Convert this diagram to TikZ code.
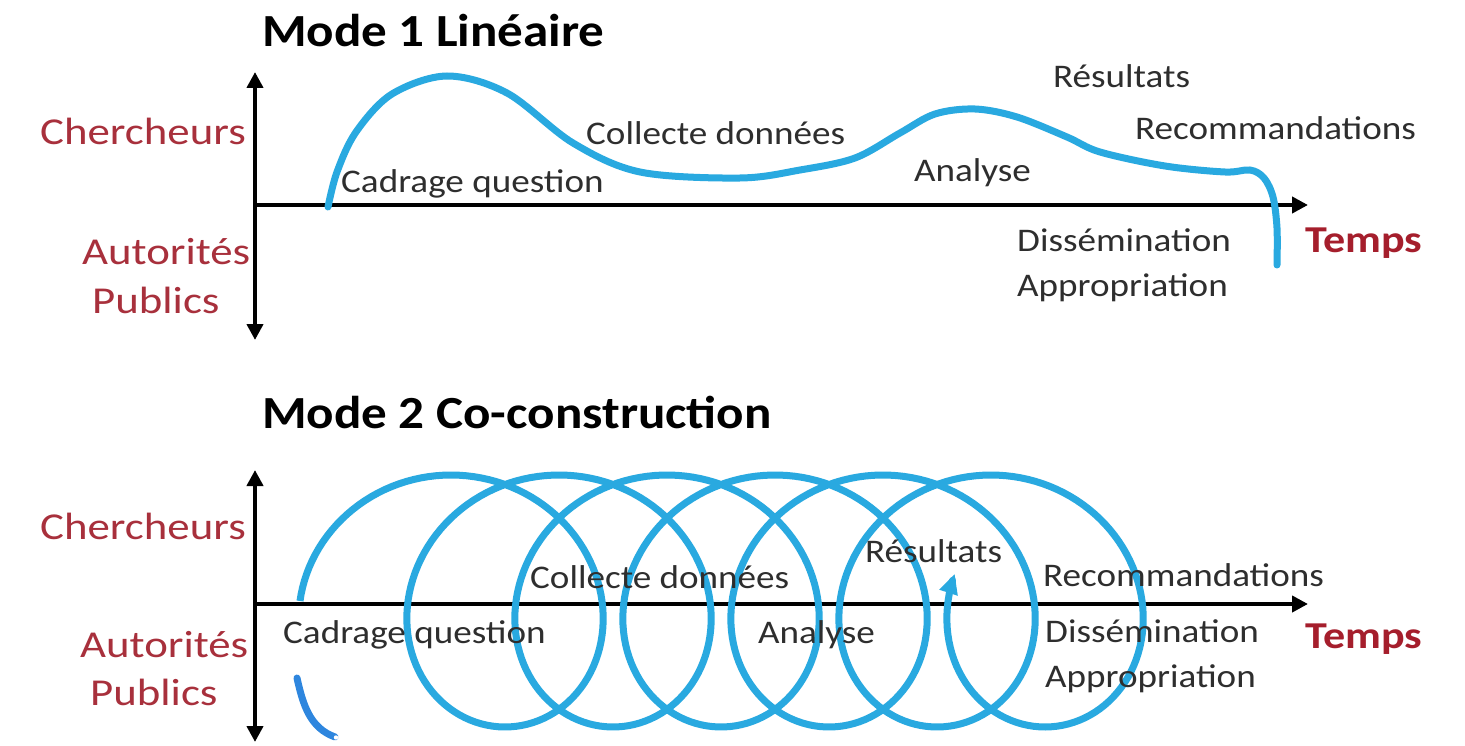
\documentclass[tikz,border=0pt]{standalone}
\usepackage{fontspec}
\setmainfont{Carlito}
\newfontfamily\lblfont{Carlito}[FakeStretch=1.125]
\newfontfamily\redfont{Carlito}[FakeStretch=1.18]
\newfontfamily\ttlfont{Carlito}[FakeStretch=1.11]
\newfontfamily\tmpfont{Carlito}[FakeStretch=1.16]
\usetikzlibrary{arrows.meta}
\definecolor{curveblue}{HTML}{29A9E0}
\definecolor{penblue}{HTML}{2E86DE}
\definecolor{labred}{HTML}{A8303C}
\definecolor{temred}{HTML}{A51E2C}
\definecolor{txt}{HTML}{2E2E2E}
\begin{document}
\begin{tikzpicture}[x=1pt,y=-1pt,
  lbl/.style={inner sep=0pt, anchor=base west, text=txt, font=\lblfont\fontsize{33}{36}\selectfont},
  side/.style={inner sep=0pt, anchor=base west, text=labred, font=\redfont\fontsize{38}{40}\selectfont},
  ttl/.style={inner sep=0pt, anchor=base west, text=black, font=\ttlfont\bfseries\fontsize{46}{50}\selectfont},
  temps/.style={inner sep=0pt, anchor=base west, text=temred, font=\tmpfont\bfseries\fontsize{38}{40}\selectfont},
  axis/.style={line width=4pt, black, -{Triangle[length=16pt,width=16pt]}},
  axis2/.style={line width=4pt, black, {Triangle[length=16pt,width=16pt]}-{Triangle[length=16pt,width=16pt]}},
  curve/.style={line width=7pt, curveblue, line cap=round, line join=round}]
\useasboundingbox (0,0) rectangle (1465,746);
\fill[white] (0,0) rectangle (1465,746);

% ---------- Mode 1 ----------
\node[ttl] (t1) at (262,47) {Mode 1 Linéaire};
\coordinate (v1a) at (255,340);
\coordinate (v1b) at (255,72);
\coordinate (h1a) at (255,205);
\coordinate (h1b) at (1308,205);
\draw[axis2] (v1a) -- (v1b);
\draw[axis] (h1a) -- (h1b);

\draw[curve] plot[smooth, tension=0.55] coordinates {(328,207) (337,172) (356,132) (392,94) (447,76) (507,93) (573,143) (640,172) (740,178) (800,170) (855,158) (900,133) (935,114) (975,109) (1017,117) (1067,137) (1100,152) (1165,166) (1225,172) (1250,170) (1264,178) (1273,197) (1277,228) (1277,265)};

\node[side] (c1) at (40,145) {Chercheurs};
\node[side] (a1) at (82,265) {Autorités};
\node[side] (p1) at (92,313) {Publics};
\node[lbl] (l11) at (341,193) {Cadrage question};
\node[lbl] (l12) at (586,145) {Collecte données};
\node[lbl] (l13) at (914,182) {Analyse};
\node[lbl] (l14) at (1053,88) {Résultats};
\node[lbl] (l15) at (1135,140) {Recommandations};
\node[lbl] (l16) at (1017,252) {Dissémination};
\node[lbl] (l17) at (1017,296) {Appropriation};
\node[temps] (tp1) at (1305,253) {Temps};

% ---------- Mode 2 ----------
\node[ttl] (t2) at (262,428) {Mode 2 Co-construction};
\coordinate (v2a) at (255,742);
\coordinate (v2b) at (255,470);
\coordinate (h2a) at (255,604);
\coordinate (h2b) at (1308,604);
\draw[axis2] (v2a) -- (v2b);
\draw[axis] (h2a) -- (h2b);

\draw[curve, line cap=butt, -{Triangle[length=20pt,width=18pt]}] plot[domain=0:37.92, samples=700, variable=\t]
  ({424+17.19*\t-124*cos(\t r)}, {601-126*sin(\t r)});

\draw[line width=7pt, penblue, line cap=round] (297,678) .. controls (303,705) and (310,728) .. (335,737);
\fill[white] (336,737.5) circle (2.2pt);

\node[side] (c2) at (40,539) {Chercheurs};
\node[side] (a2) at (80,657) {Autorités};
\node[side] (p2) at (90,705) {Publics};
\node[lbl] (l21) at (283,643) {Cadrage question};
\node[lbl] (l22) at (530,588) {Collecte données};
\node[lbl] (l23) at (865,562) {Résultats};
\node[lbl] (l24) at (758,643) {Analyse};
\node[lbl] (l25) at (1043,586) {Recommandations};
\node[lbl] (l26) at (1045,642) {Dissémination};
\node[lbl] (l27) at (1045,687) {Appropriation};
\node[temps] (tp2) at (1305,648) {Temps};
\end{tikzpicture}
\end{document}
